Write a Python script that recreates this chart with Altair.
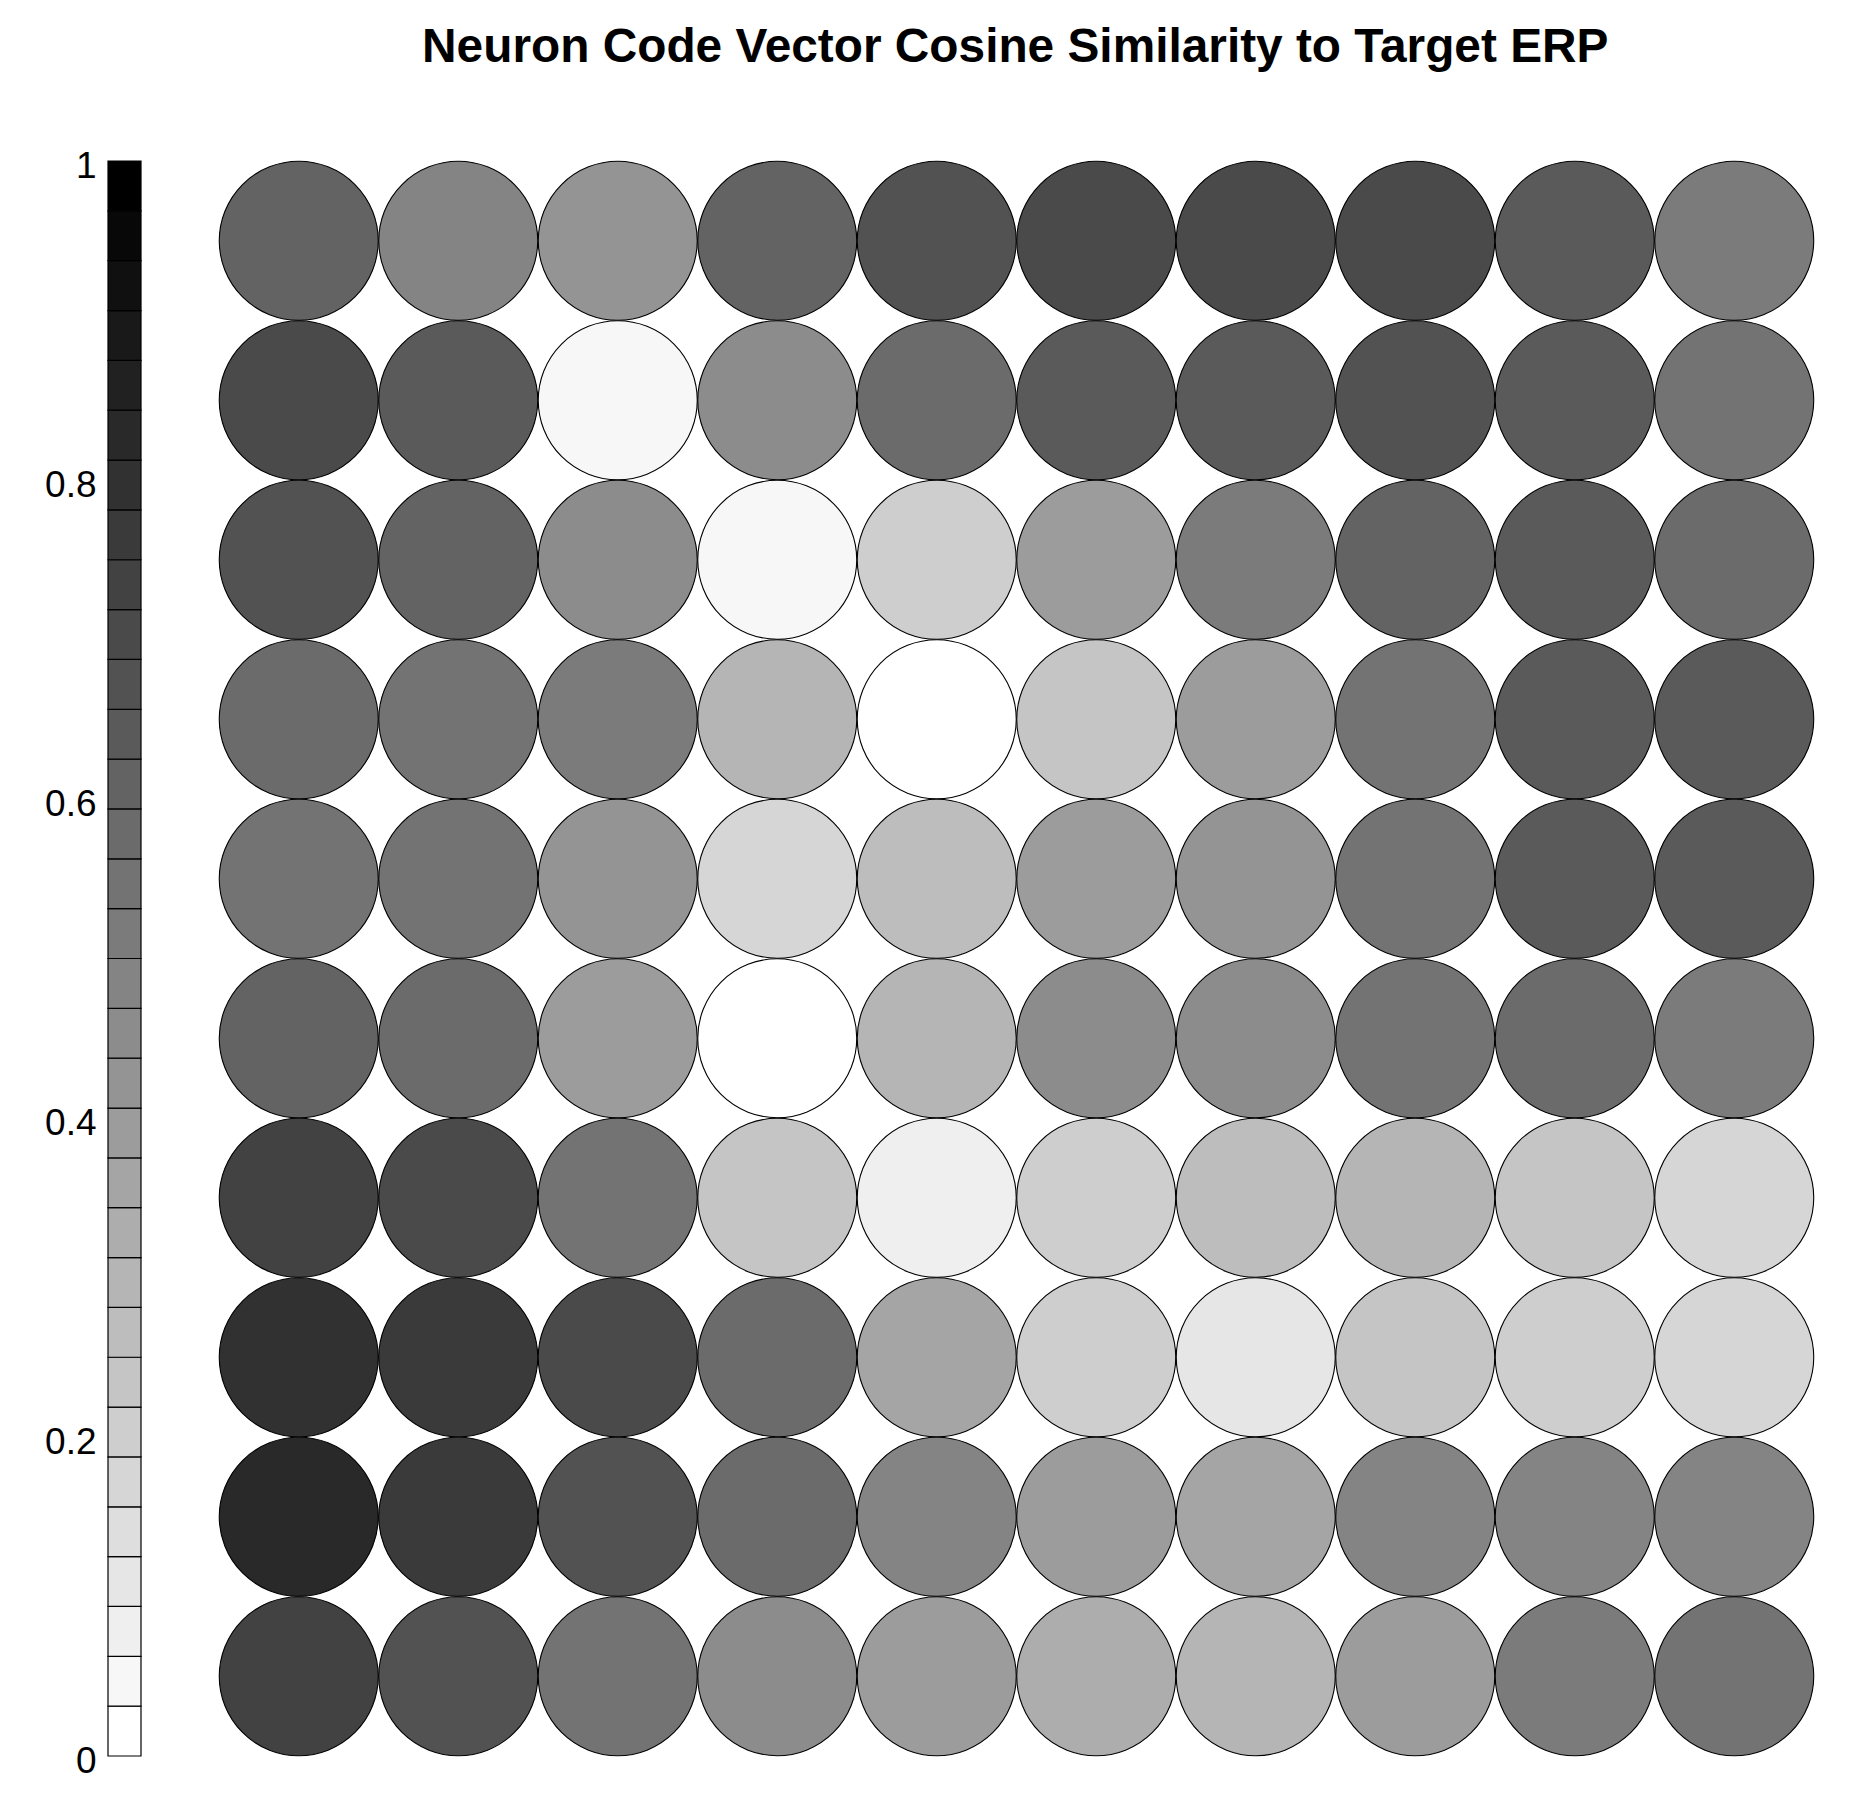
import altair as alt
import pandas as pd

TITLE = "Neuron Code Vector Cosine Similarity to Target ERP"

# cosine similarity of each map unit (rows listed top to bottom, columns left to right)
ROW_01 = [0.61, 0.48, 0.42, 0.61, 0.67, 0.70, 0.70, 0.70, 0.64, 0.52]
ROW_02 = [0.70, 0.64, 0.05, 0.45, 0.58, 0.64, 0.64, 0.67, 0.64, 0.55]
ROW_03 = [0.67, 0.61, 0.45, 0.05, 0.20, 0.39, 0.52, 0.61, 0.64, 0.58]
ROW_04 = [0.58, 0.55, 0.52, 0.30, 0.02, 0.23, 0.39, 0.55, 0.64, 0.64]
ROW_05 = [0.55, 0.55, 0.42, 0.17, 0.27, 0.39, 0.42, 0.55, 0.64, 0.64]
ROW_06 = [0.61, 0.58, 0.39, 0.02, 0.30, 0.45, 0.45, 0.55, 0.58, 0.52]
ROW_07 = [0.73, 0.70, 0.55, 0.23, 0.08, 0.20, 0.27, 0.30, 0.23, 0.17]
ROW_08 = [0.80, 0.77, 0.70, 0.58, 0.36, 0.20, 0.11, 0.23, 0.20, 0.17]
ROW_09 = [0.83, 0.77, 0.67, 0.58, 0.48, 0.39, 0.36, 0.48, 0.48, 0.48]
ROW_10 = [0.73, 0.67, 0.55, 0.45, 0.39, 0.33, 0.30, 0.39, 0.52, 0.55]
GRID = [ROW_01, ROW_02, ROW_03, ROW_04, ROW_05, ROW_06, ROW_07, ROW_08, ROW_09, ROW_10]

N_LEVELS = 32
TICK_VALUES = [0, 0.2, 0.4, 0.6, 0.8, 1]

cells = pd.DataFrame(
    [{"row": r + 1, "col": c + 1, "sim": v} for r, row in enumerate(GRID) for c, v in enumerate(row)]
)

bins = pd.DataFrame({
    "lo": [k / N_LEVELS for k in range(N_LEVELS)],
    "hi": [(k + 1) / N_LEVELS for k in range(N_LEVELS)],
})
bins["mid"] = (bins["lo"] + bins["hi"]) / 2

greys = [round(255 * (N_LEVELS - 1 - k) / (N_LEVELS - 1)) for k in range(N_LEVELS)]
palette = ["#%02x%02x%02x" % (g, g, g) for g in greys]
color_scale = alt.Scale(type="quantize", domain=[0, 1], range=palette, nice=False)

FONT = "Liberation Sans"
PLOT = 1595

colorbar = alt.Chart(bins).mark_rect(stroke="black", strokeWidth=1.2).encode(
    x=alt.value(0),
    x2=alt.value(33),
    y=alt.Y(
        "lo:Q",
        scale=alt.Scale(domain=[0, 1], nice=False, zero=False),
        axis=alt.Axis(
            values=TICK_VALUES, title=None, ticks=False, tickSize=0, domain=False, grid=False,
            labelFontSize=37, labelFont=FONT, labelColor="black", labelPadding=12,
            labelFlush=False, labelOffset=5, format="~g",
        ),
    ),
    y2="hi:Q",
    color=alt.Color("mid:Q", scale=color_scale, legend=None),
).properties(width=33, height=PLOT)

grid = alt.Chart(cells).mark_point(
    shape="circle", filled=True, size=159 * 159, stroke="black", strokeWidth=1.1, opacity=1
).encode(
    x=alt.X("col:Q", scale=alt.Scale(domain=[0.5, 10.5], nice=False, zero=False), axis=None),
    y=alt.Y("row:Q", scale=alt.Scale(domain=[0.5, 10.5], nice=False, zero=False, reverse=True), axis=None),
    color=alt.Color("sim:Q", scale=color_scale, legend=None),
).properties(width=PLOT, height=PLOT)

chart = alt.hconcat(colorbar, grid, spacing=75).properties(
    title=alt.TitleParams(
        TITLE, fontSize=47.8, font=FONT, fontWeight="bold", color="black",
        anchor="middle", dx=85, offset=75,
    ),
    padding={"left": 36, "top": 16, "right": 5, "bottom": 5},
).configure_view(stroke=None)

chart.save("out.html", embed_options={"renderer": "svg", "actions": False})
